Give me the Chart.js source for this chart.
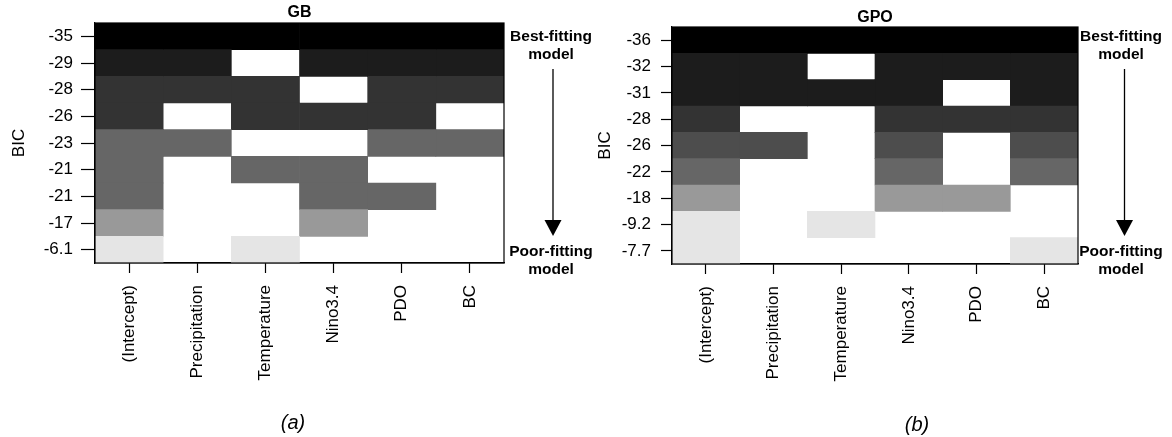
<!DOCTYPE html>
<html>
<head>
<meta charset="utf-8">
<script src="https://cdn.jsdelivr.net/npm/chart.js@4.4.0/dist/chart.umd.min.js"></script>
<style>
  html, body { margin: 0; padding: 0; background: #fff; }
  #wrap { position: relative; width: 1172px; height: 437px; overflow: hidden; }
  canvas { position: absolute; top: 0; }
</style>
</head>
<body>
<div id="wrap">
  <canvas id="gb" width="620" height="437" style="left:0"></canvas>
  <canvas id="gpo" width="586" height="437" style="left:586px"></canvas>
</div>
<script>
const variables = ['(Intercept)', 'Precipitation', 'Temperature', 'Nino3.4', 'PDO', 'BC'];

// GB panel: BIC of each model (best at top), grey level of the row, inclusion of variables
const gbBic = ['-35', '-29', '-28', '-26', '-23', '-21', '-21', '-17', '-6.1'];
const gbShade = [0, 28, 51, 51, 102, 102, 102, 153, 229];
const gbIncluded = [
  [1, 1, 1, 1, 1, 1],
  [1, 1, 0, 1, 1, 1],
  [1, 1, 1, 0, 1, 1],
  [1, 0, 1, 1, 1, 0],
  [1, 1, 0, 0, 1, 1],
  [1, 0, 1, 1, 0, 0],
  [1, 0, 0, 1, 1, 0],
  [1, 0, 0, 1, 0, 0],
  [1, 0, 1, 0, 0, 0]
];

// GPO panel
const gpoBic = ['-36', '-32', '-31', '-28', '-26', '-22', '-18', '-9.2', '-7.7'];
const gpoShade = [0, 28, 28, 51, 77, 102, 153, 229, 229];
const gpoIncluded = [
  [1, 1, 1, 1, 1, 1],
  [1, 1, 0, 1, 1, 1],
  [1, 1, 1, 1, 0, 1],
  [1, 0, 0, 1, 1, 1],
  [1, 1, 0, 1, 0, 1],
  [1, 0, 0, 1, 0, 1],
  [1, 0, 0, 1, 1, 0],
  [1, 0, 1, 0, 0, 0],
  [1, 0, 0, 0, 0, 1]
];

const FAMILY = "'Liberation Sans', Arial, Helvetica, sans-serif";
Chart.defaults.color = '#000';
Chart.defaults.font.family = FAMILY;

// box around the plot + title, arrow and notes on the right
const decorations = {
  id: 'decorations',
  afterDraw(chart, args, o) {
    const {ctx, chartArea: a} = chart;
    ctx.save();
    ctx.strokeStyle = '#000';
    ctx.lineWidth = 1.2;
    ctx.strokeRect(a.left, a.top, a.right - a.left, a.bottom - a.top);

    ctx.fillStyle = '#000';
    ctx.textAlign = 'center';
    ctx.textBaseline = 'middle';
    ctx.font = 'bold ' + o.titleSize + 'px ' + FAMILY;
    ctx.fillText(o.title, (a.left + a.right) / 2, o.titleY);

    ctx.font = 'bold 15.5px ' + FAMILY;
    ctx.fillText('Best-fitting', o.noteX, 37);
    ctx.fillText('model', o.noteX, 55);
    ctx.fillText('Poor-fitting', o.noteX, 251.5);
    ctx.fillText('model', o.noteX, 270);

    ctx.lineWidth = 1.3;
    ctx.beginPath();
    ctx.moveTo(o.arrowX, 69);
    ctx.lineTo(o.arrowX, 222);
    ctx.stroke();
    ctx.beginPath();
    ctx.moveTo(o.arrowX - 8.5, 220);
    ctx.lineTo(o.arrowX + 8.5, 220);
    ctx.lineTo(o.arrowX, 236);
    ctx.closePath();
    ctx.fill();

    ctx.font = 'italic 20px ' + FAMILY;
    ctx.fillText(o.caption, o.capX, o.capY);
    ctx.restore();
  }
};

function makeChart(id, bic, shade, included, g) {
  const datasets = variables.map((v, j) => ({
    label: v,
    data: bic.map((b, i) => included[i][j] ? [j, j + 1] : null),
    backgroundColor: shade.map(s => 'rgb(' + s + ',' + s + ',' + s + ')'),
    borderWidth: 0,
    grouped: false,
    barPercentage: 1,
    categoryPercentage: 1
  }));

  return new Chart(document.getElementById(id), {
    type: 'bar',
    data: {labels: bic, datasets: datasets},
    options: {
      indexAxis: 'y',
      responsive: false,
      animation: false,
      devicePixelRatio: 1,
      layout: {padding: {left: 0, top: g.top, right: g.right, bottom: g.bottom}},
      plugins: {
        legend: {display: false},
        tooltip: {enabled: false},
        decorations: g.deco
      },
      scales: {
        x: {
          type: 'linear',
          min: 0,
          max: 6,
          afterBuildTicks: s => { s.ticks = variables.map((v, j) => ({value: j + 0.5})); },
          ticks: {
            callback: (val, i) => variables[i],
            minRotation: 90,
            maxRotation: 90,
            autoSkip: false,
            padding: 12,
            font: {size: 17}
          },
          grid: {drawOnChartArea: false, tickLength: 10, tickColor: '#000', tickWidth: 1.2},
          border: {color: '#000', width: 1.2},
          afterFit: s => { s.height = 130; }
        },
        y: {
          type: 'category',
          offset: true,
          ticks: {padding: g.yPad, font: {size: 17}, autoSkip: false},
          grid: {drawOnChartArea: false, offset: false, tickLength: g.tick, tickColor: '#000', tickWidth: 1.2},
          border: {color: '#000', width: 1.2},
          title: {display: true, text: 'BIC', font: {size: 17}, padding: {top: 9, bottom: 0}},
          afterFit: s => { s.width = g.yWidth; }
        }
      }
    },
    plugins: [decorations]
  });
}

makeChart('gb', gbBic, gbShade, gbIncluded, {
  top: 23, right: 116, bottom: 44, yWidth: 95, tick: 14, yPad: 8,
  deco: {title: 'GB', titleSize: 16, titleY: 12.5, noteX: 551, arrowX: 553, caption: '(a)', capX: 293, capY: 423}
});

makeChart('gpo', gpoBic, gpoShade, gpoIncluded, {
  top: 27, right: 94, bottom: 43, yWidth: 86, tick: 11, yPad: 10,
  deco: {title: 'GPO', titleSize: 16, titleY: 18, noteX: 535, arrowX: 538.5, caption: '(b)', capX: 331, capY: 425}
});
</script>
</body>
</html>
